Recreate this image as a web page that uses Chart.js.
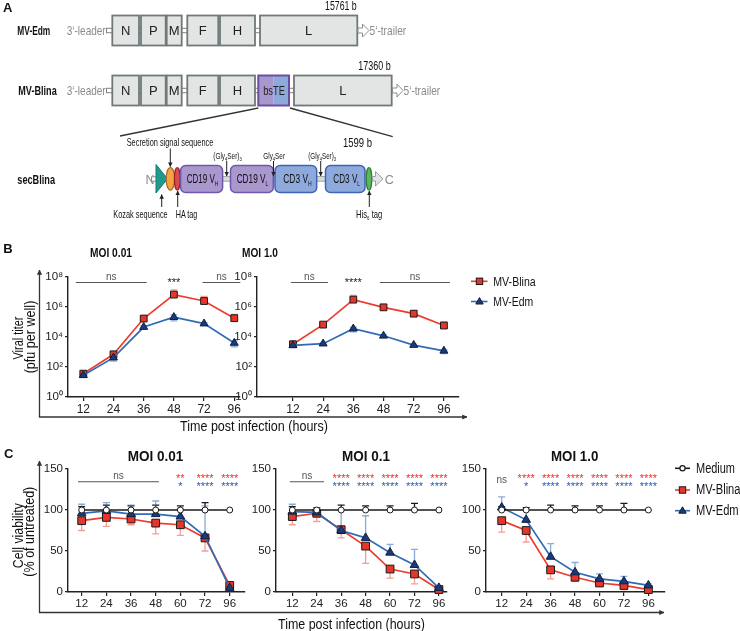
<!DOCTYPE html>
<html><head><meta charset="utf-8">
<script src="https://cdn.jsdelivr.net/npm/chart.js@4.4.1/dist/chart.umd.min.js"></script>
<style>
html,body{margin:0;padding:0;background:#fff;}
#wrap{position:relative;width:740px;height:631px;overflow:hidden;}
canvas{position:absolute;}
#ov{position:absolute;left:0;top:0;pointer-events:none;}
#ov text{font-family:'Liberation Sans',Arial,sans-serif;}
</style></head><body>
<div id="wrap">
<svg id="ov" width="740" height="631" viewBox="0 0 740 631" xmlns="http://www.w3.org/2000/svg">
<defs>
<marker id="ah" viewBox="0 0 6 6" refX="5.5" refY="3" markerWidth="4.5" markerHeight="4.5" orient="auto"><path d="M0,0 L6,3 L0,6 z" fill="#222"/></marker>
<marker id="fa" viewBox="0 0 6 6" refX="5.5" refY="3" markerWidth="4" markerHeight="4" orient="auto"><path d="M0,0 L6,3 L0,6 z" fill="#333"/></marker>
</defs>
<!-- Panel A -->
<text x="3" y="12" font-size="13" font-weight="bold" fill="#111">A</text>
<text x="17.3" y="35.2" font-size="13" font-weight="bold" fill="#111" textLength="33" lengthAdjust="spacingAndGlyphs">MV-Edm</text>
<text x="66.7" y="35.2" font-size="13" fill="#8a8a8a" textLength="39" lengthAdjust="spacingAndGlyphs">3‘-leader</text>
<rect x="106.5" y="28.3" width="252" height="4.4" fill="#fff" stroke="#7b8484" stroke-width="1"/>
<g fill="#e3e5e4" stroke="#6f7979" stroke-width="1.8">
<rect x="112.3" y="15.5" width="26.7" height="30"/><rect x="141" y="15.5" width="24.7" height="30"/><rect x="166.7" y="15.5" width="15" height="30"/><rect x="187.3" y="15.5" width="31" height="30"/><rect x="220" y="15.5" width="35" height="30"/><rect x="260" y="15.5" width="97.3" height="30"/>
</g>
<polygon points="358,28 362.5,28 362.5,24 369,30.5 362.5,37 362.5,33 358,33" fill="#fff" stroke="#8a8f8f" stroke-width="1"/>
<text x="369.5" y="35.2" font-size="13" fill="#8a8a8a" textLength="36.7" lengthAdjust="spacingAndGlyphs">5‘-trailer</text>
<text x="325" y="9.8" font-size="12" fill="#111" textLength="31.7" lengthAdjust="spacingAndGlyphs">15761 b</text>
<g font-size="13" fill="#222" text-anchor="middle">
<text x="125.7" y="35.2">N</text><text x="153.3" y="35.2">P</text><text x="174.2" y="35.2">M</text><text x="202.8" y="35.2">F</text><text x="237.5" y="35.2">H</text><text x="308.7" y="35.2">L</text>
</g>
<text x="18.3" y="95.2" font-size="13" font-weight="bold" fill="#111" textLength="38.4" lengthAdjust="spacingAndGlyphs">MV-Blina</text>
<text x="66.7" y="95.2" font-size="13" fill="#8a8a8a" textLength="39" lengthAdjust="spacingAndGlyphs">3‘-leader</text>
<rect x="106.5" y="88.3" width="286" height="4.4" fill="#fff" stroke="#7b8484" stroke-width="1"/>
<g fill="#e3e5e4" stroke="#6f7979" stroke-width="1.8">
<rect x="112.3" y="75.5" width="26.7" height="30"/><rect x="141" y="75.5" width="24.7" height="30"/><rect x="166.7" y="75.5" width="15" height="30"/><rect x="187.3" y="75.5" width="31" height="30"/><rect x="220" y="75.5" width="35" height="30"/><rect x="294" y="75.5" width="97.7" height="30"/>
</g>
<rect x="258.3" y="75.5" width="15.4" height="30" fill="#a897cc"/>
<rect x="273.7" y="75.5" width="15.3" height="30" fill="#8eaadc"/>
<rect x="258.3" y="75.5" width="30.7" height="30" fill="none" stroke="#6a4ea2" stroke-width="2"/>
<polygon points="392.5,88 397,88 397,84 403,90.5 397,97 397,93 392.5,93" fill="#fff" stroke="#8a8f8f" stroke-width="1"/>
<text x="403.5" y="95.2" font-size="13" fill="#8a8a8a" textLength="36.7" lengthAdjust="spacingAndGlyphs">5‘-trailer</text>
<text x="358.3" y="69.6" font-size="12" fill="#111" textLength="32.4" lengthAdjust="spacingAndGlyphs">17360 b</text>
<g font-size="13" fill="#222" text-anchor="middle">
<text x="125.7" y="95.2">N</text><text x="153.3" y="95.2">P</text><text x="174.2" y="95.2">M</text><text x="202.8" y="95.2">F</text><text x="237.5" y="95.2">H</text><text x="342.8" y="95.2">L</text>
<text x="274" y="95.2" textLength="21.7" lengthAdjust="spacingAndGlyphs">bsTE</text>
</g>
<line x1="258.3" y1="108" x2="120" y2="136" stroke="#333" stroke-width="1.3"/>
<line x1="290" y1="108" x2="392.7" y2="136.7" stroke="#333" stroke-width="1.3"/>
<!-- secBlina -->
<text x="17.3" y="184" font-size="13" font-weight="bold" fill="#111" textLength="37.7" lengthAdjust="spacingAndGlyphs">secBlina</text>
<text x="145.5" y="183.5" font-size="12.5" fill="#8a8a8a">N</text>
<rect x="151.5" y="176.8" width="6" height="4.4" fill="#fff" stroke="#8a8f8f" stroke-width="1"/>
<rect x="222" y="176.6" width="9" height="4.6" fill="#d9dcdb" stroke="#9ba1a1" stroke-width="1"/>
<rect x="272.5" y="176.6" width="3" height="4.6" fill="#d9dcdb" stroke="#9ba1a1" stroke-width="1"/>
<rect x="316" y="176.6" width="10" height="4.6" fill="#d9dcdb" stroke="#9ba1a1" stroke-width="1"/>
<polygon points="156,164.5 156,193 167.5,178.8" fill="#1f9a8c" stroke="#167a6e" stroke-width="1"/>
<ellipse cx="170.4" cy="178.8" rx="4.3" ry="11.3" fill="#f4a53c" stroke="#a85f2c" stroke-width="1.2"/>
<ellipse cx="177.3" cy="178.8" rx="2.9" ry="11.3" fill="#d94a4e" stroke="#9b1f26" stroke-width="1.2"/>
<rect x="180.6" y="165.5" width="42" height="27" rx="5" fill="#a997cd" stroke="#6f57a9" stroke-width="1.5"/>
<rect x="230.5" y="165.5" width="42.8" height="27" rx="5" fill="#a997cd" stroke="#6f57a9" stroke-width="1.5"/>
<rect x="275" y="165.5" width="41.7" height="27" rx="5" fill="#8eaadc" stroke="#3f64b6" stroke-width="1.5"/>
<rect x="325.5" y="165.5" width="39.5" height="27" rx="5" fill="#8eaadc" stroke="#3f64b6" stroke-width="1.5"/>
<ellipse cx="369" cy="178.8" rx="2.8" ry="11.3" fill="#5cb65c" stroke="#2f7a34" stroke-width="1.2"/>
<polygon points="372.5,176.5 375.5,176.5 375.5,171.5 383,178.8 375.5,186 375.5,181 372.5,181" fill="#e3e5e4" stroke="#9a9f9f" stroke-width="1"/>
<text x="384.8" y="183.5" font-size="12.5" fill="#8a8a8a">C</text>
<g font-size="12.5" fill="#111" text-anchor="middle">
<text x="202.5" y="183.3" textLength="31.7" lengthAdjust="spacingAndGlyphs">CD19 V<tspan font-size="7.5" dy="3">H</tspan></text>
<text x="252.5" y="183.3" textLength="31.7" lengthAdjust="spacingAndGlyphs">CD19 V<tspan font-size="7.5" dy="3">L</tspan></text>
<text x="297.5" y="183.3" textLength="28.4" lengthAdjust="spacingAndGlyphs">CD3 V<tspan font-size="7.5" dy="3">H</tspan></text>
<text x="346.7" y="183.3" textLength="26.7" lengthAdjust="spacingAndGlyphs">CD3 V<tspan font-size="7.5" dy="3">L</tspan></text>
</g>
<text x="126.7" y="146.4" font-size="10.5" fill="#111" textLength="86.6" lengthAdjust="spacingAndGlyphs">Secretion signal sequence</text>
<text x="343" y="146.6" font-size="12" fill="#111" textLength="29" lengthAdjust="spacingAndGlyphs">1599 b</text>
<g font-size="8.5" fill="#111">
<text x="213.3" y="159" textLength="28.4" lengthAdjust="spacingAndGlyphs">(Gly<tspan font-size="5.5" dy="2">4</tspan><tspan dy="-2">Ser)</tspan><tspan font-size="5.5" dy="2">3</tspan></text>
<text x="263.3" y="159" textLength="21.7" lengthAdjust="spacingAndGlyphs">Gly<tspan font-size="5.5" dy="2">4</tspan><tspan dy="-2">Ser</tspan></text>
<text x="308.3" y="159" textLength="27.7" lengthAdjust="spacingAndGlyphs">(Gly<tspan font-size="5.5" dy="2">4</tspan><tspan dy="-2">Ser)</tspan><tspan font-size="5.5" dy="2">3</tspan></text>
</g>
<g font-size="10.5" fill="#111">
<text x="113.3" y="217.5" textLength="54.4" lengthAdjust="spacingAndGlyphs">Kozak sequence</text>
<text x="175.7" y="217.5" textLength="21.6" lengthAdjust="spacingAndGlyphs">HA tag</text>
<text x="356" y="217.5" textLength="26.3" lengthAdjust="spacingAndGlyphs">His<tspan font-size="6" dy="2">6</tspan><tspan dy="-2"> tag</tspan></text>
</g>
<g stroke="#222" stroke-width="1">
<line x1="170.3" y1="148.5" x2="170.3" y2="166.5" marker-end="url(#ah)"/>
<line x1="226.7" y1="161" x2="226.7" y2="176" marker-end="url(#ah)"/>
<line x1="273.5" y1="161" x2="273.5" y2="176" marker-end="url(#ah)"/>
<line x1="320.7" y1="161" x2="320.7" y2="176" marker-end="url(#ah)"/>
<line x1="161.7" y1="207" x2="161.7" y2="194.5" marker-end="url(#ah)"/>
<line x1="177.7" y1="207" x2="177.7" y2="191" marker-end="url(#ah)"/>
<line x1="369.3" y1="207" x2="369.3" y2="191" marker-end="url(#ah)"/>
</g>
<!-- Panel B -->
<text x="3.3" y="252.5" font-size="13" font-weight="bold" fill="#111">B</text>
<text x="111" y="256.7" font-size="13" font-weight="bold" fill="#111" text-anchor="middle" textLength="42" lengthAdjust="spacingAndGlyphs">MOI 0.01</text>
<text x="260" y="256.7" font-size="13" font-weight="bold" fill="#111" text-anchor="middle" textLength="36" lengthAdjust="spacingAndGlyphs">MOI 1.0</text>
<text transform="rotate(-90 23.3 338)" x="23.3" y="338" font-size="14" fill="#111" text-anchor="middle" textLength="43" lengthAdjust="spacingAndGlyphs">Viral titer</text>
<text transform="rotate(-90 34.7 337)" x="34.7" y="337" font-size="14" fill="#111" text-anchor="middle" textLength="72.7" lengthAdjust="spacingAndGlyphs">(pfu per well)</text>
<text x="254" y="431" font-size="14" fill="#111" text-anchor="middle" textLength="148" lengthAdjust="spacingAndGlyphs">Time post infection (hours)</text>
<g stroke="#333" stroke-width="1.3" fill="none">
<line x1="39.5" y1="417" x2="39.5" y2="270" marker-end="url(#fa)"/>
<line x1="38.9" y1="417" x2="467" y2="417" marker-end="url(#fa)"/>
</g>
<line x1="471" y1="281.3" x2="487.5" y2="281.3" stroke="#ee3b2e" stroke-width="1.6"/>
<rect x="476.3" y="278.1" width="6.4" height="6.4" fill="#e8352a" stroke="#1a1a1a" stroke-width="1"/>
<text x="493.3" y="285.7" font-size="12.5" fill="#111" textLength="42.4" lengthAdjust="spacingAndGlyphs">MV-Blina</text>
<line x1="471" y1="301.5" x2="487.5" y2="301.5" stroke="#2f6cb6" stroke-width="1.6"/>
<polygon points="479.5,297.6 483.2,304 475.8,304" fill="#1d3a78" stroke="#0e1e40" stroke-width="1"/>
<text x="493.3" y="306" font-size="12.5" fill="#111" textLength="40" lengthAdjust="spacingAndGlyphs">MV-Edm</text>
<!-- Panel C -->
<text x="4" y="457.5" font-size="13" font-weight="bold" fill="#111">C</text>
<text x="155.5" y="460.7" font-size="14.5" font-weight="bold" fill="#111" text-anchor="middle" textLength="55.7" lengthAdjust="spacingAndGlyphs">MOI 0.01</text>
<text x="366" y="460.7" font-size="14.5" font-weight="bold" fill="#111" text-anchor="middle" textLength="48" lengthAdjust="spacingAndGlyphs">MOI 0.1</text>
<text x="574.7" y="460.7" font-size="14.5" font-weight="bold" fill="#111" text-anchor="middle" textLength="47.3" lengthAdjust="spacingAndGlyphs">MOI 1.0</text>
<text transform="rotate(-90 23.3 535.7)" x="23.3" y="535.7" font-size="14" fill="#111" text-anchor="middle" textLength="65" lengthAdjust="spacingAndGlyphs">Cell viability</text>
<text transform="rotate(-90 34 531.7)" x="34" y="531.7" font-size="14" fill="#111" text-anchor="middle" textLength="90" lengthAdjust="spacingAndGlyphs">(% of untreated)</text>
<text x="351.5" y="629" font-size="14" fill="#111" text-anchor="middle" textLength="147" lengthAdjust="spacingAndGlyphs">Time post infection (hours)</text>
<g stroke="#333" stroke-width="1.3" fill="none">
<line x1="39.5" y1="612.5" x2="39.5" y2="461" marker-end="url(#fa)"/>
<line x1="38.9" y1="612.5" x2="664" y2="612.5" marker-end="url(#fa)"/>
</g>
<line x1="675" y1="468.3" x2="690" y2="468.3" stroke="#1a1a1a" stroke-width="1.6"/>
<circle cx="682.5" cy="468.3" r="2.6" fill="#fff" stroke="#1a1a1a" stroke-width="1.2"/>
<text x="696" y="473.3" font-size="14" fill="#111" textLength="39" lengthAdjust="spacingAndGlyphs">Medium</text>
<line x1="675" y1="490" x2="690" y2="490" stroke="#ee3b2e" stroke-width="1.6"/>
<rect x="679.3" y="486.8" width="6.4" height="6.4" fill="#e8352a" stroke="#1a1a1a" stroke-width="1"/>
<text x="696" y="494.3" font-size="14" fill="#111" textLength="44.5" lengthAdjust="spacingAndGlyphs">MV-Blina</text>
<line x1="675" y1="510.7" x2="690" y2="510.7" stroke="#2f6cb6" stroke-width="1.6"/>
<polygon points="682.5,506.8 686.2,513.2 678.8,513.2" fill="#1d3a78" stroke="#0e1e40" stroke-width="1"/>
<text x="696" y="515.3" font-size="14" fill="#111" textLength="42.6" lengthAdjust="spacingAndGlyphs">MV-Edm</text>
</svg>
</div>
<script>
// ---------- DATA ----------
const catsB = ['12', '24', '36', '48', '72', '96'];
const catsC = ['12', '24', '36', '48', '60', '72', '96'];
const yTicksB = [1, 1e2, 1e4, 1e6, 1e8];
const yTickLabelsB = ['10⁰', '10²', '10⁴', '10⁶', '10⁸'];
const yTicksC = [0, 50, 100, 150];

// Panel B, MOI 0.01 (pfu per well)
const blinaB1   = [36, 700, 1.7e5, 6.7e6, 2.5e6, 1.8e5];
const blinaB1Hi = [45, 900, 2.4e5, 1.4e7, 5.0e6, 3.2e5];
const blinaB1Lo = [30, 550, 1.3e5, 4.5e6, 1.8e6, 1.3e5];
const edmB1     = [28, 420, 4.6e4, 2.1e5, 7.8e4, 4000];
const edmB1Hi   = [33, 520, 5.5e4, 3.0e5, 9.0e4, 5500];
const edmB1Lo   = [23, 250, 3.6e4, 1.2e5, 6.5e4, 2200];
// Panel B, MOI 1.0
const blinaB2   = [3300, 6.7e4, 3.1e6, 9.5e5, 3.6e5, 5.8e4];
const blinaB2Hi = [4000, 7.5e4, 6.0e6, 1.1e6, 4.5e5, 1.0e5];
const blinaB2Lo = [2800, 6.0e4, 2.3e6, 8.5e5, 3.0e5, 4.5e4];
const edmB2     = [2800, 3600, 3.6e4, 1.2e4, 2900, 1200];
const edmB2Hi   = [3200, 4000, 4.5e4, 1.4e4, 3300, 1400];
const edmB2Lo   = [2200, 3200, 2.2e4, 1.0e4, 2500, 780];

// Panel C (% of untreated)
const mediumC   = [100, 100, 100, 100, 100, 100, 100];
const mediumC1Hi = [104, 106, 105, 106, 105, 109, 100];
const blinaC1   = [87, 91, 89, 84, 82, 66, 8];
const blinaC1Lo = [75, 80, 82, 71, 69, 50, 6];
const edmC1     = [96, 99, 95, 95, 92, 68, 5];
const edmC1Hi   = [107, 109, 106, 111, 102, 105, 7];

const mediumC2Hi = [104, 103, 106, 105, 105, 108, 100];
const blinaC2   = [92, 96, 76, 56, 28, 22, 3];
const blinaC2Lo = [82, 86, 66, 35, 17, 10, 2];
const edmC2     = [98, 97, 75, 66, 48, 33, 5];
const edmC2Hi   = [107, 103, 100, 93, 58, 52, 7];

const mediumC3Hi = [104, 103, 106, 105, 105, 108, 100];
const blinaC3   = [87, 75, 27, 18, 11, 8, 3];
const blinaC3Lo = [73, 61, 16, 13, 7, 3, 1];
const edmC3     = [103, 88, 43, 24, 16, 13, 8];
const edmC3Hi   = [116, 100, 59, 36, 22, 19, 10];

// significance annotations
const sigB1Bars = [[-0.25, 2.1, 'ns'], [3.95, 5.2, 'ns']];
const sigB1Stars = [[3, '***']];
const sigB2Bars = [[-0.07, 1.16, 'ns'], [2.88, 5.2, 'ns']];
const sigB2Stars = [[2, '****']];
const sigC1Bars = [[-0.15, 3.13, 'ns']];
const sigC1Red  = ['', '', '', '', '**', '****', '****'];
const sigC1Blue = ['', '', '', '', '*', '****', '****'];
const sigC2Bars = [[-0.1, 1.3, 'ns']];
const sigC2Red  = ['', '', '****', '****', '****', '****', '****'];
const sigC2Blue = ['', '', '****', '****', '****', '****', '****'];
const sigC3Ns   = ['ns', '', '', '', '', '', ''];
const sigC3Red  = ['', '****', '****', '****', '****', '****', '****'];
const sigC3Blue = ['', '*', '****', '****', '****', '****', '****'];

// ---------- STYLE / LAYOUT ----------
const FONT = "'Liberation Sans', Arial, sans-serif";
Chart.defaults.font.family = FONT;
Chart.defaults.color = '#222';
const STYLE = {
  blina:  {borderColor: '#ee3b2e', pointStyle: 'rect', pointBackgroundColor: '#e8352a', pointBorderColor: '#1a1a1a', errColor: 'rgba(240,90,80,0.6)'},
  edm:    {borderColor: '#2f6cb6', pointStyle: 'triangle', pointBackgroundColor: '#1d3a78', pointBorderColor: '#0e1e40', errColor: 'rgba(60,115,190,0.6)'},
  medium: {borderColor: '#1a1a1a', pointStyle: 'circle', pointBackgroundColor: '#fff', pointBorderColor: '#1a1a1a', errColor: '#1a1a1a'}
};
const PT = 18, PR = 8, YW = 40, XH = 24;

const errPlugin = {
  id: 'err',
  beforeDatasetsDraw(chart) {
    const ctx = chart.ctx, xs = chart.scales.x, ys = chart.scales.y;
    chart.data.datasets.forEach(d => {
      ctx.save();
      ctx.strokeStyle = d.errColor; ctx.lineWidth = 1.3;
      d.data.forEach((p, i) => {
        const x = xs.getPixelForValue(p.x), y = ys.getPixelForValue(p.y);
        [d.errHi && d.errHi[i], d.errLo && d.errLo[i]].forEach(b => {
          if (b == null || b === p.y) return;
          const yb = ys.getPixelForValue(b);
          ctx.beginPath(); ctx.moveTo(x, y); ctx.lineTo(x, yb);
          ctx.moveTo(x - 3.5, yb); ctx.lineTo(x + 3.5, yb); ctx.stroke();
        });
      });
      ctx.restore();
    });
  }
};
const sigPlugin = {
  id: 'sig',
  afterDatasetsDraw(chart, args, opts) {
    const ctx = chart.ctx, xs = chart.scales.x, top = chart.chartArea.top;
    (opts.items || []).forEach(it => {
      ctx.save();
      if (it.kind === 'bar') {
        ctx.strokeStyle = it.color; ctx.lineWidth = 1.1;
        ctx.beginPath(); ctx.moveTo(xs.getPixelForValue(it.a), top + it.dy);
        ctx.lineTo(xs.getPixelForValue(it.b), top + it.dy); ctx.stroke();
      } else if (it.text) {
        ctx.fillStyle = it.color; ctx.font = it.size + 'px ' + FONT;
        ctx.textAlign = 'center'; ctx.textBaseline = 'alphabetic';
        const k = /\*/.test(it.text) ? 0.6 : 0.27;
        ctx.fillText(it.text, xs.getPixelForValue(it.at), top + it.dy + k * it.size);
      }
      ctx.restore();
    });
  }
};
function sigB(bars, stars) {
  const it = [];
  bars.forEach(([a, b, t]) => { it.push({kind: 'bar', a, b, dy: 5.5, color: '#555'}); it.push({kind: 'text', at: (a + b) / 2, text: t, dy: 0.3, color: '#555', size: 10}); });
  stars.forEach(([at, t]) => it.push({kind: 'text', at, text: t, dy: 2.5, color: '#222', size: 11}));
  return it;
}
function sigC(bars, red, blue, ns) {
  const it = [];
  bars.forEach(([a, b, t]) => { it.push({kind: 'bar', a, b, dy: 12.7, color: '#555'}); it.push({kind: 'text', at: (a + b) / 2, text: t, dy: 7.5, color: '#555', size: 10}); });
  red.forEach((t, i) => it.push({kind: 'text', at: i, text: t, dy: 6.3, color: '#e8332a', size: 11}));
  blue.forEach((t, i) => it.push({kind: 'text', at: i, text: t, dy: 14.3, color: '#2c58a8', size: 11}));
  (ns || []).forEach((t, i) => it.push({kind: 'text', at: i, text: t, dy: 10.8, color: '#555', size: 10}));
  return it;
}
function series(label, vals, hi, lo, key, r) {
  return Object.assign({
    label, data: vals.map((v, i) => ({x: i, y: v})), errHi: hi, errLo: lo,
    borderWidth: 1.7, pointRadius: r, pointBorderWidth: 1, tension: 0, clip: false, fill: false
  }, STYLE[key]);
}
const wrap = document.getElementById('wrap');
const ov = document.getElementById('ov');
function makeChart(lay, cats, yCfg, datasets, items, tickSize) {
  const cv = document.createElement('canvas');
  const w = Math.round(YW + (lay.R - lay.L) + PR), h = Math.round(PT + (lay.B - lay.T) + XH);
  cv.width = w; cv.height = h;
  cv.style.left = (lay.L - YW) + 'px'; cv.style.top = (lay.T - PT) + 'px';
  cv.style.width = w + 'px'; cv.style.height = h + 'px';
  wrap.insertBefore(cv, ov);
  const axisCommon = {
    grid: {display: true, drawOnChartArea: false, drawTicks: true, color: '#222', lineWidth: 1.2},
    border: {display: true, color: '#222', width: 1.4}
  };
  new Chart(cv, {
    type: 'line',
    data: {datasets},
    options: {
      responsive: false, animation: false, devicePixelRatio: 1,
      layout: {padding: {top: PT, right: PR, left: 0, bottom: 0}, autoPadding: false},
      plugins: {legend: {display: false}, tooltip: {enabled: false}, sig: {items}},
      scales: {
        x: Object.assign({}, axisCommon, {
          type: 'linear', min: lay.xmin, max: lay.xmax,
          grid: Object.assign({}, axisCommon.grid, {tickLength: 4}),
          afterBuildTicks: s => { s.ticks = cats.map((c, i) => ({value: i})); },
          afterFit: s => { s.height = XH; },
          ticks: {callback: v => cats[v], autoSkip: false, maxRotation: 0, padding: 1, color: '#222', font: {size: tickSize}}
        }),
        y: Object.assign({}, axisCommon, yCfg, {
          grid: Object.assign({}, axisCommon.grid, {tickLength: 3}),
          afterFit: s => { s.width = YW; }
        })
      }
    },
    plugins: [errPlugin, sigPlugin]
  });
}
const yB = {
  type: 'logarithmic', min: 1, max: 1e8,
  afterBuildTicks: s => { s.ticks = yTicksB.map(v => ({value: v})); },
  ticks: {callback: v => yTickLabelsB[yTicksB.indexOf(v)] || '', padding: 2, color: '#222', font: {size: 11.5}}
};
const yC = {
  type: 'linear', min: 0, max: 150,
  afterBuildTicks: s => { s.ticks = yTicksC.map(v => ({value: v})); },
  ticks: {callback: v => String(v), padding: 2, color: '#222', font: {size: 11.5}}
};

makeChart({L: 68, T: 277, B: 397, R: 240, xmin: -0.507, xmax: 5.19}, catsB, yB, [
  series('MV-Edm', edmB1, edmB1Hi, edmB1Lo, 'edm', 4.6),
  series('MV-Blina', blinaB1, blinaB1Hi, blinaB1Lo, 'blina', 4.8)
], sigB(sigB1Bars, sigB1Stars), 12);

makeChart({L: 257, T: 277, B: 397, R: 459, xmin: -1.19, xmax: 5.5}, catsB, yB, [
  series('MV-Edm', edmB2, edmB2Hi, edmB2Lo, 'edm', 4.6),
  series('MV-Blina', blinaB2, blinaB2Hi, blinaB2Lo, 'blina', 4.8)
], sigB(sigB2Bars, sigB2Stars), 12);

makeChart({L: 68, T: 469, B: 592, R: 245, xmin: -0.555, xmax: 6.62}, catsC, yC, [
  series('Medium', mediumC, mediumC1Hi, null, 'medium', 3),
  series('MV-Edm', edmC1, edmC1Hi, null, 'edm', 5),
  series('MV-Blina', blinaC1, null, blinaC1Lo, 'blina', 5.5)
], sigC(sigC1Bars, sigC1Red, sigC1Blue), 11.5);

makeChart({L: 276, T: 469, B: 592, R: 447, xmin: -0.667, xmax: 6.33}, catsC, yC, [
  series('Medium', mediumC, mediumC2Hi, null, 'medium', 3),
  series('MV-Edm', edmC2, edmC2Hi, null, 'edm', 5),
  series('MV-Blina', blinaC2, null, blinaC2Lo, 'blina', 5.5)
], sigC(sigC2Bars, sigC2Red, sigC2Blue), 11.5);

makeChart({L: 486, T: 469, B: 592, R: 665, xmin: -0.643, xmax: 6.68}, catsC, yC, [
  series('Medium', mediumC, mediumC3Hi, null, 'medium', 3),
  series('MV-Edm', edmC3, edmC3Hi, null, 'edm', 5),
  series('MV-Blina', blinaC3, null, blinaC3Lo, 'blina', 5.5)
], sigC([], sigC3Red, sigC3Blue, sigC3Ns), 11.5);
</script>
</body></html>
